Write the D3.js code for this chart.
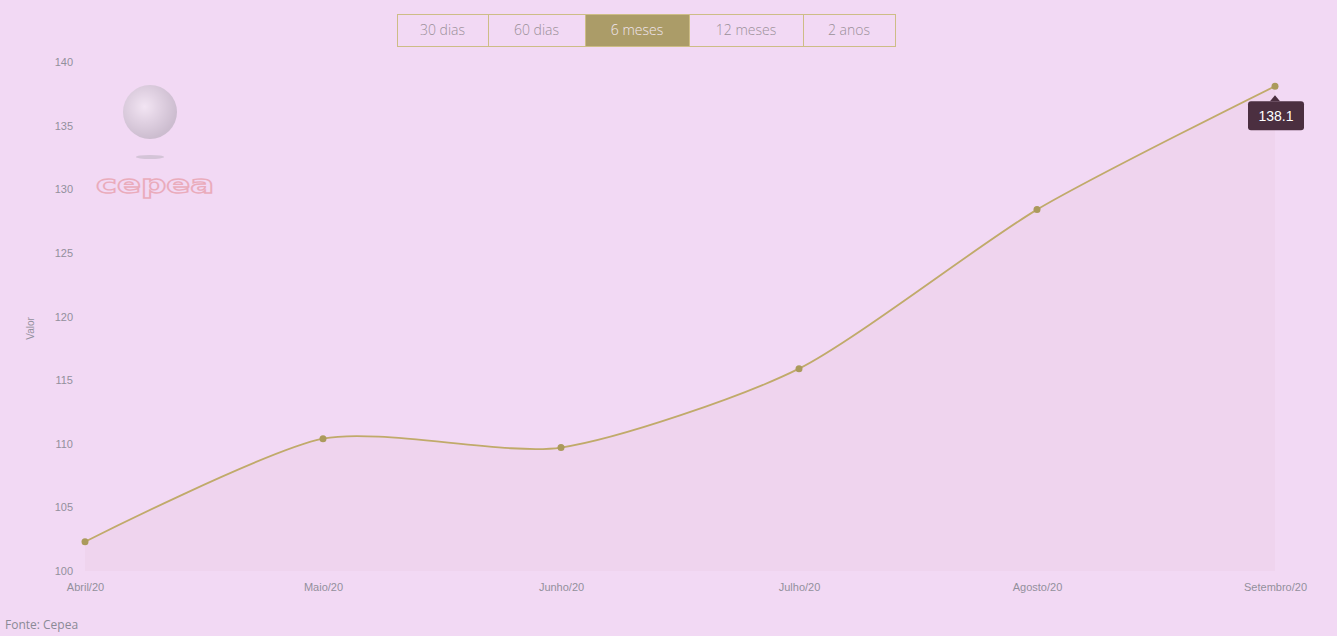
<!DOCTYPE html>
<html>
<head>
<meta charset="utf-8">
<script src="https://cdnjs.cloudflare.com/ajax/libs/d3/7.8.5/d3.min.js"></script>
<style>
  html, body { margin: 0; padding: 0; background: #f2d9f4; }
  svg { display: block; }
</style>
</head>
<body>
<svg id="chart" width="1337" height="636"></svg>
<script>
// chart data
const months = ["Abril/20", "Maio/20", "Junho/20", "Julho/20", "Agosto/20", "Setembro/20"];
const values = [102.3, 110.4, 109.7, 115.9, 128.4, 138.1];
const yTicks = [100, 105, 110, 115, 120, 125, 130, 135, 140];
const periods = ["30 dias", "60 dias", "6 meses", "12 meses", "2 anos"];
const activePeriod = "6 meses";

const svg = d3.select("#chart");
const margin = { top: 62, right: 62, bottom: 65, left: 85 };
const width = 1337, height = 636;

const x = d3.scalePoint().domain(months).range([margin.left, width - margin.right]);
const y = d3.scaleLinear().domain([100, 140]).range([height - margin.bottom, margin.top]);

const points = months.map((m, i) => ({ m, v: values[i] }));

// logo (faint globe + outlined name)
const logo = svg.append("g").attr("opacity", 0.5);
const grad = svg.append("defs").append("radialGradient").attr("id", "globe")
  .attr("cx", "40%").attr("cy", "40%").attr("r", "60%");
grad.append("stop").attr("offset", "0%").attr("stop-color", "#f4f0f4");
grad.append("stop").attr("offset", "100%").attr("stop-color", "#a8a2ac");
logo.append("circle").attr("cx", 150).attr("cy", 112).attr("r", 27).attr("fill", "url(#globe)");
logo.append("ellipse").attr("cx", 150).attr("cy", 157).attr("rx", 14).attr("ry", 2).attr("fill", "#b8b0bc");
logo.append("text").attr("x", 155).attr("y", 193).attr("text-anchor", "middle")
  .attr("font-family", "DejaVu Sans").attr("font-size", 24).attr("font-weight", "bold")
  .attr("textLength", 118).attr("lengthAdjust", "spacingAndGlyphs")
  .attr("fill", "none").attr("stroke", "#e47f84").attr("stroke-width", 1.3)
  .text("cepea");

// y axis
const yAxis = svg.append("g")
  .attr("transform", `translate(${margin.left - 12},0)`)
  .call(d3.axisLeft(y).tickValues(yTicks).tickSize(0).tickPadding(0));
yAxis.select(".domain").remove();
yAxis.selectAll("text").attr("fill", "#92909c").attr("font-size", 11)
  .attr("font-family", "Liberation Sans, Arial");

// x axis
const xAxis = svg.append("g")
  .attr("transform", `translate(0,${height - margin.bottom + 12})`)
  .call(d3.axisBottom(x).tickSize(0).tickPadding(0));
xAxis.select(".domain").remove();
xAxis.selectAll("text").attr("fill", "#92909c").attr("font-size", 11)
  .attr("font-family", "Liberation Sans, Arial");

// y label
svg.append("text")
  .attr("transform", `translate(34,${(margin.top + height - margin.bottom) / 2 + 12}) rotate(-90)`)
  .attr("text-anchor", "middle").attr("fill", "#92909c").attr("font-size", 10)
  .attr("font-family", "Liberation Sans, Arial").text("Valor");

// area + line
const curve = d3.curveCardinal.tension(0.3);
svg.append("path").datum(points)
  .attr("fill", "#eed2ec").attr("opacity", 0.8)
  .attr("d", d3.area().x(d => x(d.m)).y0(y(100)).y1(d => y(d.v)).curve(curve));
svg.append("path").datum(points)
  .attr("fill", "none").attr("stroke", "#c0aa6a").attr("stroke-width", 1.8)
  .attr("d", d3.line().x(d => x(d.m)).y(d => y(d.v)).curve(curve));
svg.selectAll("circle.pt").data(points).enter().append("circle")
  .attr("class", "pt")
  .attr("cx", d => x(d.m)).attr("cy", d => y(d.v)).attr("r", 3.5)
  .attr("fill", "#ab9a5c");

// tooltip on last point
const last = points[points.length - 1];
const tx = x(last.m), ty = y(last.v);
const tip = svg.append("g").attr("transform", `translate(${tx},${ty + 15})`);
tip.append("path").attr("d", "M-5,0 L0,-6 L5,0 Z").attr("fill", "#4b2f40");
tip.append("rect").attr("x", -27).attr("y", 0).attr("width", 56).attr("height", 29)
  .attr("rx", 3).attr("fill", "#4b2f40");
tip.append("text").attr("x", 1).attr("y", 20).attr("text-anchor", "middle")
  .attr("fill", "#ffffff").attr("font-size", 14)
  .attr("font-family", "Liberation Sans, Arial").text(last.v.toFixed(1));

// period buttons
const btnWidths = [91, 97, 104, 114, 92];
let bx = 397;
const btns = svg.append("g");
periods.forEach((p, i) => {
  const w = btnWidths[i];
  const on = p === activePeriod;
  btns.append("rect").attr("x", bx + 0.5).attr("y", 14.5).attr("width", w).attr("height", 32)
    .attr("fill", on ? "#ab9c68" : "#f2d9f4").attr("stroke", "#cdbd86").attr("stroke-width", 1);
  btns.append("text").attr("x", bx + w / 2).attr("y", 35).attr("text-anchor", "middle")
    .attr("fill", on ? "#f1e6ef" : "#9a9098").attr("font-size", 14)
    .attr("font-family", "Open Sans").attr("font-weight", 300).text(p);
  bx += w;
});

// source
svg.append("text").attr("x", 5).attr("y", 629).attr("fill", "#8a8a96")
  .attr("font-size", 12).attr("font-family", "Open Sans").text("Fonte: Cepea");
</script>
</body>
</html>
